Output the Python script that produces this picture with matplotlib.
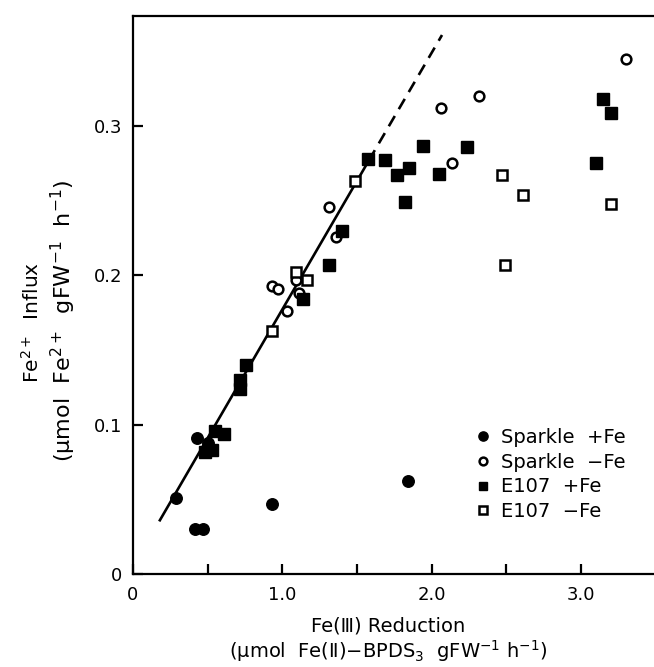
import matplotlib
matplotlib.use("Agg")
import matplotlib.pyplot as plt

# data
sp_plus_x = [0.29, 0.416, 0.467, 0.93, 0.43, 0.50, 1.84]
sp_plus_y = [0.051, 0.030, 0.030, 0.047, 0.091, 0.088, 0.062]

sp_minus_x = [0.93, 0.97, 1.03, 1.11, 1.09, 1.31, 1.36, 2.06, 2.14, 2.32, 3.30]
sp_minus_y = [0.193, 0.191, 0.176, 0.188, 0.197, 0.246, 0.226, 0.312, 0.275, 0.320, 0.345]

e107_plus_x = [0.48, 0.53, 0.55, 0.61, 0.72, 0.72, 0.76, 1.14, 1.31, 1.40, 1.575,
               1.69, 1.77, 1.82, 1.85, 1.94, 2.05, 2.24, 3.10, 3.15, 3.20]
e107_plus_y = [0.082, 0.083, 0.096, 0.094, 0.124, 0.130, 0.140, 0.184, 0.207, 0.230, 0.278,
               0.277, 0.267, 0.249, 0.272, 0.287, 0.268, 0.286, 0.275, 0.318, 0.309]

e107_minus_x = [0.93, 1.09, 1.165, 1.49, 2.47, 2.49, 2.61, 3.20]
e107_minus_y = [0.163, 0.202, 0.197, 0.263, 0.267, 0.207, 0.254, 0.248]

fit_x = [0.18, 1.58]
fit_y = [0.036, 0.277]
fit_ext_x = [1.58, 2.07]
fit_ext_y = [0.277, 0.361]

xticks = [0, 0.5, 1.0, 1.5, 2.0, 2.5, 3.0]
xticklabels = ["0", "", "1.0", "", "2.0", "", "3.0"]
yticks = [0, 0.1, 0.2, 0.3]
yticklabels = ["0", "0.1", "0.2", "0.3"]

fig = plt.figure(figsize=(6.54, 6.67), dpi=100)
ax = fig.add_axes([133/654, 1 - 574/667, (654 - 133)/654, (574 - 16)/667])

ax.plot(fit_x, fit_y, color="black", lw=1.9, zorder=2)
ax.plot(fit_ext_x, fit_ext_y, color="black", lw=1.9, dashes=(4.5, 3), zorder=2)

ax.plot(sp_plus_x, sp_plus_y, "o", ms=8.3, mfc="black", mec="black", ls="none",
        label="Sparkle  +Fe", zorder=3)
ax.plot(sp_minus_x, sp_minus_y, "o", ms=7, mfc="white", mec="black", mew=1.8, ls="none",
        label="Sparkle  \u2212Fe", zorder=3)
ax.plot(e107_plus_x, e107_plus_y, "s", ms=8, mfc="black", mec="black", ls="none",
        label="E107  +Fe", zorder=3)
ax.plot(e107_minus_x, e107_minus_y, "s", ms=6.8, mfc="white", mec="black", mew=1.8, ls="none",
        label="E107  \u2212Fe", zorder=3)

ax.set_xlim(0, (653 - 133) / 149)
ax.set_ylim(0, (574 - 16) / 1493)

ax.set_xticks(xticks)
ax.set_xticklabels(xticklabels)
ax.set_yticks(yticks)
ax.set_yticklabels(yticklabels)
ax.tick_params(direction="in", length=7, width=1.6, labelsize=13)
ax.tick_params(axis="x", pad=9)
ax.tick_params(axis="y", pad=8)

for s in ["left", "bottom", "top"]:
    ax.spines[s].set_linewidth(1.6)
ax.spines["right"].set_visible(False)

fig.text(388/654, 1 - 626/667, "Fe(\u2162) Reduction", ha="center", va="center", fontsize=14)
fig.text(388/654, 1 - 651/667, "(\u03bcmol  Fe(\u2161)$-$BPDS$_3$  gFW$^{-1}$ h$^{-1}$)",
         ha="center", va="center", fontsize=14)
fig.text(32/654, 1 - 322/667, "Fe$^{2+}$  Influx", rotation=90, ha="center", va="center", fontsize=14.5)
fig.text(63/654, 1 - 321/667, "(\u03bcmol  Fe$^{2+}$  gFW$^{-1}$  h$^{-1}$)", rotation=90,
         ha="center", va="center", fontsize=16)

leg = ax.legend(loc="upper left", bbox_to_anchor=(0.656, 0.262), frameon=False,
                handlelength=0.8, handletextpad=0.55, labelspacing=0.3, borderpad=0,
                borderaxespad=0, fontsize=14, markerscale=0.8)

fig.savefig("out.png", dpi=100)
